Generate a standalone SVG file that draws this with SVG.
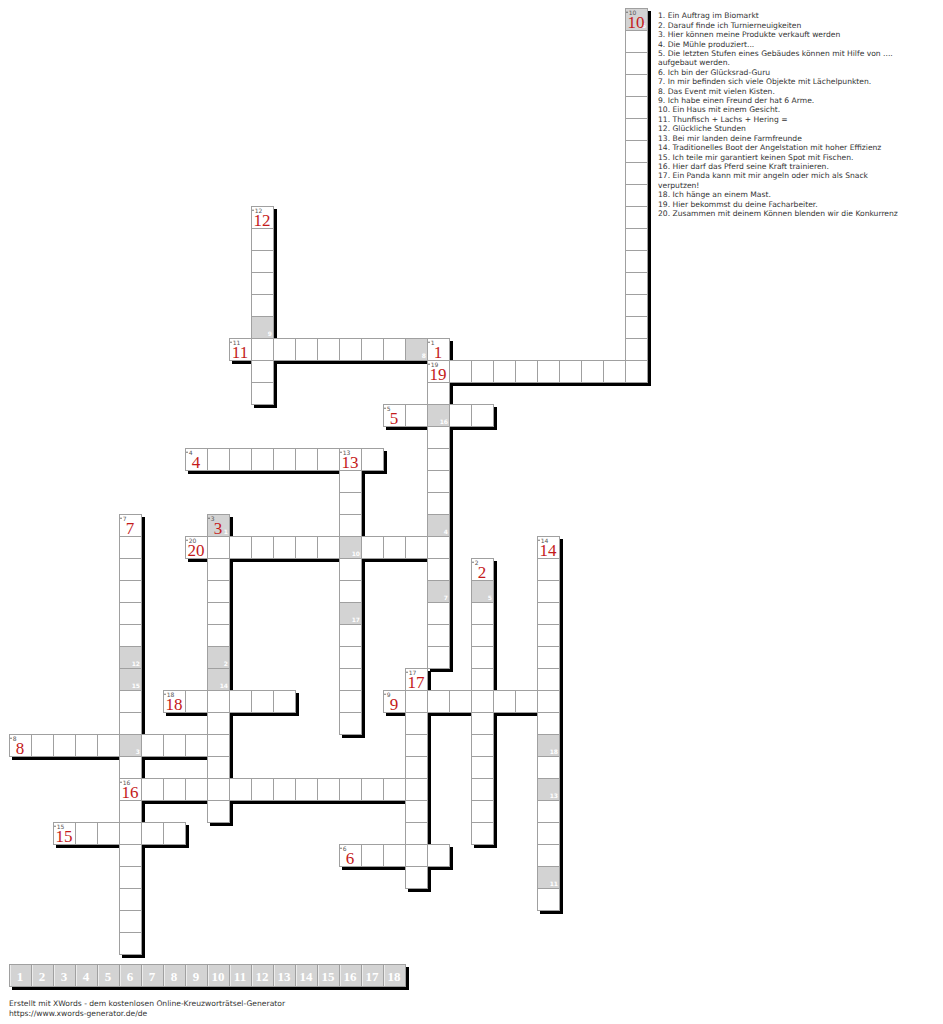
<svg xmlns="http://www.w3.org/2000/svg" width="943" height="1024" viewBox="0 0 943 1024">
<defs>
<pattern id="grid" patternUnits="userSpaceOnUse" x="0" y="0" width="22" height="22">
<rect width="22" height="22" fill="#ffffff"/>
<rect width="22" height="1" fill="#a0a0a0"/>
<rect width="1" height="22" fill="#a0a0a0"/>
</pattern>
<pattern id="lgrid" patternUnits="userSpaceOnUse" x="0" y="0" width="22" height="22">
<rect width="22" height="22" fill="#d3d3d3"/>
<rect width="22" height="1" fill="#a0a0a0"/>
<rect width="1" height="22" fill="#a0a0a0"/>
<rect x="1" y="1" width="1" height="21" fill="#ececec"/>
</pattern>
</defs>
<style>
.sh{fill:#000}
.cells{fill:url(#grid)}
.gc{fill:#d3d3d3}
.gn{font-family:"DejaVu Sans",sans-serif;font-size:6px;font-weight:bold;fill:#ffffff;text-anchor:end}
.sn{font-family:"DejaVu Sans",sans-serif;font-size:6px;fill:#555555}
.dot{fill:#444444}
.bn{font-family:"Liberation Serif",serif;font-size:17px;fill:#c41a1a;text-anchor:middle}
.clue{font-family:"DejaVu Sans",sans-serif;font-size:7.6px;fill:#333333}
.leg{font-family:"Liberation Serif",serif;font-size:13px;font-weight:bold;fill:#ffffff;text-anchor:middle}
</style>
<rect width="943" height="1024" fill="#ffffff"/>

<g id="shadows">
<rect class="sh" x="628" y="11" width="23" height="375"/>
<rect class="sh" x="254" y="209" width="23" height="199"/>
<rect class="sh" x="232" y="341" width="199" height="23"/>
<rect class="sh" x="430" y="341" width="23" height="331"/>
<rect class="sh" x="430" y="363" width="221" height="23"/>
<rect class="sh" x="386" y="407" width="111" height="23"/>
<rect class="sh" x="188" y="451" width="199" height="23"/>
<rect class="sh" x="342" y="451" width="23" height="287"/>
<rect class="sh" x="188" y="539" width="265" height="23"/>
<rect class="sh" x="210" y="517" width="23" height="309"/>
<rect class="sh" x="122" y="517" width="23" height="441"/>
<rect class="sh" x="474" y="561" width="23" height="287"/>
<rect class="sh" x="540" y="539" width="23" height="375"/>
<rect class="sh" x="166" y="693" width="133" height="23"/>
<rect class="sh" x="386" y="693" width="177" height="23"/>
<rect class="sh" x="408" y="671" width="23" height="221"/>
<rect class="sh" x="12" y="737" width="221" height="23"/>
<rect class="sh" x="122" y="781" width="309" height="23"/>
<rect class="sh" x="56" y="825" width="133" height="23"/>
<rect class="sh" x="342" y="847" width="111" height="23"/>
<rect class="sh" x="12" y="967" width="397" height="23"/>
</g>

<g id="cells">
<g id="word-10" transform="translate(625,8)"><rect class="cells" width="23" height="375"/></g>
<g id="word-12" transform="translate(251,206)"><rect class="cells" width="23" height="199"/></g>
<g id="word-11" transform="translate(229,338)"><rect class="cells" width="199" height="23"/></g>
<g id="word-1" transform="translate(427,338)"><rect class="cells" width="23" height="331"/></g>
<g id="word-19" transform="translate(427,360)"><rect class="cells" width="221" height="23"/></g>
<g id="word-5" transform="translate(383,404)"><rect class="cells" width="111" height="23"/></g>
<g id="word-4" transform="translate(185,448)"><rect class="cells" width="199" height="23"/></g>
<g id="word-13" transform="translate(339,448)"><rect class="cells" width="23" height="287"/></g>
<g id="word-20" transform="translate(185,536)"><rect class="cells" width="265" height="23"/></g>
<g id="word-3" transform="translate(207,514)"><rect class="cells" width="23" height="309"/></g>
<g id="word-7" transform="translate(119,514)"><rect class="cells" width="23" height="441"/></g>
<g id="word-2" transform="translate(471,558)"><rect class="cells" width="23" height="287"/></g>
<g id="word-14" transform="translate(537,536)"><rect class="cells" width="23" height="375"/></g>
<g id="word-18" transform="translate(163,690)"><rect class="cells" width="133" height="23"/></g>
<g id="word-9" transform="translate(383,690)"><rect class="cells" width="177" height="23"/></g>
<g id="word-17" transform="translate(405,668)"><rect class="cells" width="23" height="221"/></g>
<g id="word-8" transform="translate(9,734)"><rect class="cells" width="221" height="23"/></g>
<g id="word-16" transform="translate(119,778)"><rect class="cells" width="309" height="23"/></g>
<g id="word-15" transform="translate(53,822)"><rect class="cells" width="133" height="23"/></g>
<g id="word-6" transform="translate(339,844)"><rect class="cells" width="111" height="23"/></g>
</g>

<g id="solution-cells">
<g transform="translate(208,515)"><rect class="gc" width="21" height="21"/><text class="gn" x="20" y="19">1</text></g>
<g transform="translate(208,647)"><rect class="gc" width="21" height="21"/><text class="gn" x="20" y="19">2</text></g>
<g transform="translate(120,735)"><rect class="gc" width="21" height="21"/><text class="gn" x="20" y="19">3</text></g>
<g transform="translate(428,515)"><rect class="gc" width="21" height="21"/><text class="gn" x="20" y="19">4</text></g>
<g transform="translate(472,581)"><rect class="gc" width="21" height="21"/><text class="gn" x="20" y="19">5</text></g>
<g transform="translate(626,9)"><rect class="gc" width="21" height="21"/><text class="gn" x="20" y="19">6</text></g>
<g transform="translate(428,581)"><rect class="gc" width="21" height="21"/><text class="gn" x="20" y="19">7</text></g>
<g transform="translate(406,339)"><rect class="gc" width="21" height="21"/><text class="gn" x="20" y="19">8</text></g>
<g transform="translate(252,317)"><rect class="gc" width="21" height="21"/><text class="gn" x="20" y="19">9</text></g>
<g transform="translate(340,537)"><rect class="gc" width="21" height="21"/><text class="gn" x="20" y="19">10</text></g>
<g transform="translate(538,867)"><rect class="gc" width="21" height="21"/><text class="gn" x="20" y="19">11</text></g>
<g transform="translate(120,647)"><rect class="gc" width="21" height="21"/><text class="gn" x="20" y="19">12</text></g>
<g transform="translate(538,779)"><rect class="gc" width="21" height="21"/><text class="gn" x="20" y="19">13</text></g>
<g transform="translate(208,669)"><rect class="gc" width="21" height="21"/><text class="gn" x="20" y="19">14</text></g>
<g transform="translate(120,669)"><rect class="gc" width="21" height="21"/><text class="gn" x="20" y="19">15</text></g>
<g transform="translate(428,405)"><rect class="gc" width="21" height="21"/><text class="gn" x="20" y="19">16</text></g>
<g transform="translate(340,603)"><rect class="gc" width="21" height="21"/><text class="gn" x="20" y="19">17</text></g>
<g transform="translate(538,735)"><rect class="gc" width="21" height="21"/><text class="gn" x="20" y="19">18</text></g>
</g>

<g id="labels">
<g id="n10" transform="translate(625,8)"><circle class="dot" cx="2" cy="4.3" r="0.7"/><text class="sn" x="3.8" y="7">10</text><text class="bn" x="11" y="20">10</text></g>
<g id="n12" transform="translate(251,206)"><circle class="dot" cx="2" cy="4.3" r="0.7"/><text class="sn" x="3.8" y="7">12</text><text class="bn" x="11" y="20">12</text></g>
<g id="n11" transform="translate(229,338)"><circle class="dot" cx="2" cy="4.3" r="0.7"/><text class="sn" x="3.8" y="7">11</text><text class="bn" x="11" y="20">11</text></g>
<g id="n1" transform="translate(427,338)"><circle class="dot" cx="2" cy="4.3" r="0.7"/><text class="sn" x="3.8" y="7">1</text><text class="bn" x="11" y="20">1</text></g>
<g id="n19" transform="translate(427,360)"><circle class="dot" cx="2" cy="4.3" r="0.7"/><text class="sn" x="3.8" y="7">19</text><text class="bn" x="11" y="20">19</text></g>
<g id="n5" transform="translate(383,404)"><circle class="dot" cx="2" cy="4.3" r="0.7"/><text class="sn" x="3.8" y="7">5</text><text class="bn" x="11" y="20">5</text></g>
<g id="n4" transform="translate(185,448)"><circle class="dot" cx="2" cy="4.3" r="0.7"/><text class="sn" x="3.8" y="7">4</text><text class="bn" x="11" y="20">4</text></g>
<g id="n13" transform="translate(339,448)"><circle class="dot" cx="2" cy="4.3" r="0.7"/><text class="sn" x="3.8" y="7">13</text><text class="bn" x="11" y="20">13</text></g>
<g id="n20" transform="translate(185,536)"><circle class="dot" cx="2" cy="4.3" r="0.7"/><text class="sn" x="3.8" y="7">20</text><text class="bn" x="11" y="20">20</text></g>
<g id="n3" transform="translate(207,514)"><circle class="dot" cx="2" cy="4.3" r="0.7"/><text class="sn" x="3.8" y="7">3</text><text class="bn" x="11" y="20">3</text></g>
<g id="n7" transform="translate(119,514)"><circle class="dot" cx="2" cy="4.3" r="0.7"/><text class="sn" x="3.8" y="7">7</text><text class="bn" x="11" y="20">7</text></g>
<g id="n2" transform="translate(471,558)"><circle class="dot" cx="2" cy="4.3" r="0.7"/><text class="sn" x="3.8" y="7">2</text><text class="bn" x="11" y="20">2</text></g>
<g id="n14" transform="translate(537,536)"><circle class="dot" cx="2" cy="4.3" r="0.7"/><text class="sn" x="3.8" y="7">14</text><text class="bn" x="11" y="20">14</text></g>
<g id="n18" transform="translate(163,690)"><circle class="dot" cx="2" cy="4.3" r="0.7"/><text class="sn" x="3.8" y="7">18</text><text class="bn" x="11" y="20">18</text></g>
<g id="n9" transform="translate(383,690)"><circle class="dot" cx="2" cy="4.3" r="0.7"/><text class="sn" x="3.8" y="7">9</text><text class="bn" x="11" y="20">9</text></g>
<g id="n17" transform="translate(405,668)"><circle class="dot" cx="2" cy="4.3" r="0.7"/><text class="sn" x="3.8" y="7">17</text><text class="bn" x="11" y="20">17</text></g>
<g id="n8" transform="translate(9,734)"><circle class="dot" cx="2" cy="4.3" r="0.7"/><text class="sn" x="3.8" y="7">8</text><text class="bn" x="11" y="20">8</text></g>
<g id="n16" transform="translate(119,778)"><circle class="dot" cx="2" cy="4.3" r="0.7"/><text class="sn" x="3.8" y="7">16</text><text class="bn" x="11" y="20">16</text></g>
<g id="n15" transform="translate(53,822)"><circle class="dot" cx="2" cy="4.3" r="0.7"/><text class="sn" x="3.8" y="7">15</text><text class="bn" x="11" y="20">15</text></g>
<g id="n6" transform="translate(339,844)"><circle class="dot" cx="2" cy="4.3" r="0.7"/><text class="sn" x="3.8" y="7">6</text><text class="bn" x="11" y="20">6</text></g>
</g>

<g id="clues">
<text class="clue" x="658" y="18.3">1. Ein Auftrag im Biomarkt</text>
<text class="clue" x="658" y="27.7">2. Darauf finde ich Turnierneuigkeiten</text>
<text class="clue" x="658" y="37.1">3. Hier können meine Produkte verkauft werden</text>
<text class="clue" x="658" y="46.5">4. Die Mühle produziert...</text>
<text class="clue" x="658" y="56">5. Die letzten Stufen eines Gebäudes können mit Hilfe von ....</text>
<text class="clue" x="658" y="65.4">aufgebaut werden.</text>
<text class="clue" x="658" y="74.8">6. Ich bin der Glücksrad-Guru</text>
<text class="clue" x="658" y="84.2">7. In mir befinden sich viele Objekte mit Lächelpunkten.</text>
<text class="clue" x="658" y="93.6">8. Das Event mit vielen Kisten.</text>
<text class="clue" x="658" y="103">9. Ich habe einen Freund der hat 6 Arme.</text>
<text class="clue" x="658" y="112.4">10. Ein Haus mit einem Gesicht.</text>
<text class="clue" x="658" y="121.8">11. Thunfisch + Lachs + Hering =</text>
<text class="clue" x="658" y="131.2">12. Glückliche Stunden</text>
<text class="clue" x="658" y="140.6">13. Bei mir landen deine Farmfreunde</text>
<text class="clue" x="658" y="150">14. Traditionelles Boot der Angelstation mit hoher Effizienz</text>
<text class="clue" x="658" y="159.5">15. Ich teile mir garantiert keinen Spot mit Fischen.</text>
<text class="clue" x="658" y="168.9">16. Hier darf das Pferd seine Kraft trainieren.</text>
<text class="clue" x="658" y="178.3">17. Ein Panda kann mit mir angeln oder mich als Snack</text>
<text class="clue" x="658" y="187.7">verputzen!</text>
<text class="clue" x="658" y="197.1">18. Ich hänge an einem Mast.</text>
<text class="clue" x="658" y="206.5">19. Hier bekommst du deine Facharbeiter.</text>
<text class="clue" x="658" y="215.9">20. Zusammen mit deinem Können blenden wir die Konkurrenz</text>
</g>

<g id="solution-legend" transform="translate(9,964)">
<rect width="397" height="23" fill="url(#lgrid)"/>
<text class="leg" x="11" y="17">1</text>
<text class="leg" x="33" y="17">2</text>
<text class="leg" x="55" y="17">3</text>
<text class="leg" x="77" y="17">4</text>
<text class="leg" x="99" y="17">5</text>
<text class="leg" x="121" y="17">6</text>
<text class="leg" x="143" y="17">7</text>
<text class="leg" x="165" y="17">8</text>
<text class="leg" x="187" y="17">9</text>
<text class="leg" x="209" y="17">10</text>
<text class="leg" x="231" y="17">11</text>
<text class="leg" x="253" y="17">12</text>
<text class="leg" x="275" y="17">13</text>
<text class="leg" x="297" y="17">14</text>
<text class="leg" x="319" y="17">15</text>
<text class="leg" x="341" y="17">16</text>
<text class="leg" x="363" y="17">17</text>
<text class="leg" x="385" y="17">18</text>
</g>

<g id="footer">
<text class="clue" x="9" y="1005.5">Erstellt mit XWords - dem kostenlosen Online-Kreuzworträtsel-Generator</text>
<text class="clue" x="9" y="1015.5">https://www.xwords-generator.de/de</text>
</g>
</svg>
